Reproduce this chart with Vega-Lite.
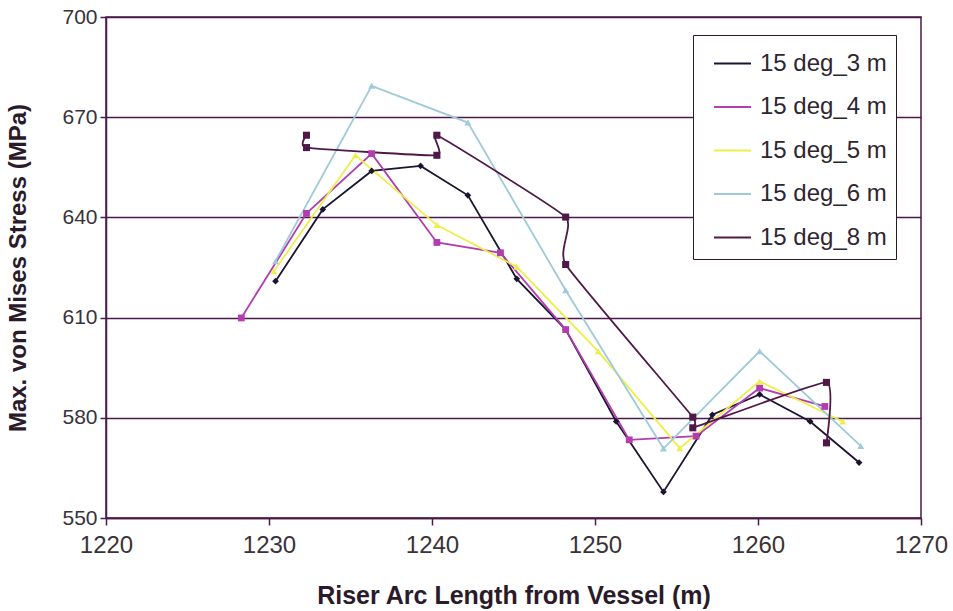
{
  "$schema": "https://vega.github.io/schema/vega-lite/v6.json",
  "autosize": "none",
  "width": 815,
  "height": 501,
  "padding": {"left": 106, "top": 17, "right": 32, "bottom": 93},
  "background": "white",
  "config": {
    "font": "Liberation Sans",
    "view": {"stroke": "#4a1a48", "strokeWidth": 1.5},
    "axis": {
      "domainColor": "#4a1a48",
      "domainWidth": 1.5,
      "tickColor": "#4a1a48",
      "tickWidth": 1.5,
      "labelColor": "#3a3238",
      "labelFont": "Liberation Sans",
      "titleFont": "Liberation Sans",
      "titleFontWeight": "bold",
      "titleColor": "#2a1a2a"
    }
  },
  "data": {
    "values": [
      {"series": "15 deg_3 m", "i": 1, "x": 1230.4, "y": 620.9},
      {"series": "15 deg_3 m", "i": 2, "x": 1233.3, "y": 642.4},
      {"series": "15 deg_3 m", "i": 3, "x": 1236.3, "y": 653.9},
      {"series": "15 deg_3 m", "i": 4, "x": 1239.3, "y": 655.4},
      {"series": "15 deg_3 m", "i": 5, "x": 1242.2, "y": 646.6},
      {"series": "15 deg_3 m", "i": 6, "x": 1245.2, "y": 621.6},
      {"series": "15 deg_3 m", "i": 7, "x": 1248.2, "y": 606.4},
      {"series": "15 deg_3 m", "i": 8, "x": 1251.3, "y": 578.9},
      {"series": "15 deg_3 m", "i": 9, "x": 1254.2, "y": 557.8},
      {"series": "15 deg_3 m", "i": 10, "x": 1257.2, "y": 580.9},
      {"series": "15 deg_3 m", "i": 11, "x": 1260.1, "y": 587.0},
      {"series": "15 deg_3 m", "i": 12, "x": 1263.2, "y": 578.9},
      {"series": "15 deg_3 m", "i": 13, "x": 1266.2, "y": 566.6},

      {"series": "15 deg_4 m", "i": 1, "x": 1228.3, "y": 609.9},
      {"series": "15 deg_4 m", "i": 2, "x": 1232.3, "y": 641.2},
      {"series": "15 deg_4 m", "i": 3, "x": 1236.3, "y": 659.1},
      {"series": "15 deg_4 m", "i": 4, "x": 1240.3, "y": 632.5},
      {"series": "15 deg_4 m", "i": 5, "x": 1244.2, "y": 629.4},
      {"series": "15 deg_4 m", "i": 6, "x": 1248.2, "y": 606.4},
      {"series": "15 deg_4 m", "i": 7, "x": 1252.1, "y": 573.4},
      {"series": "15 deg_4 m", "i": 8, "x": 1256.2, "y": 574.5},
      {"series": "15 deg_4 m", "i": 9, "x": 1260.1, "y": 588.9},
      {"series": "15 deg_4 m", "i": 10, "x": 1264.1, "y": 583.4},

      {"series": "15 deg_5 m", "i": 1, "x": 1230.3, "y": 623.9},
      {"series": "15 deg_5 m", "i": 2, "x": 1235.3, "y": 658.6},
      {"series": "15 deg_5 m", "i": 3, "x": 1240.3, "y": 637.7},
      {"series": "15 deg_5 m", "i": 4, "x": 1245.2, "y": 625.2},
      {"series": "15 deg_5 m", "i": 5, "x": 1250.2, "y": 599.9},
      {"series": "15 deg_5 m", "i": 6, "x": 1255.2, "y": 570.9},
      {"series": "15 deg_5 m", "i": 7, "x": 1260.1, "y": 590.9},
      {"series": "15 deg_5 m", "i": 8, "x": 1265.2, "y": 578.9},

      {"series": "15 deg_6 m", "i": 1, "x": 1230.4, "y": 626.9},
      {"series": "15 deg_6 m", "i": 2, "x": 1236.3, "y": 679.4},
      {"series": "15 deg_6 m", "i": 3, "x": 1242.2, "y": 668.4},
      {"series": "15 deg_6 m", "i": 4, "x": 1248.2, "y": 618.2},
      {"series": "15 deg_6 m", "i": 5, "x": 1254.2, "y": 570.8},
      {"series": "15 deg_6 m", "i": 6, "x": 1260.1, "y": 599.9},
      {"series": "15 deg_6 m", "i": 7, "x": 1266.3, "y": 571.6},

      {"series": "15 deg_8 m", "i": 1, "x": 1232.3, "y": 664.6},
      {"series": "15 deg_8 m", "i": 2, "x": 1232.3, "y": 660.9},
      {"series": "15 deg_8 m", "i": 3, "x": 1240.3, "y": 658.6},
      {"series": "15 deg_8 m", "i": 4, "x": 1240.3, "y": 664.6},
      {"series": "15 deg_8 m", "i": 5, "x": 1248.2, "y": 640.1},
      {"series": "15 deg_8 m", "i": 6, "x": 1248.2, "y": 625.9},
      {"series": "15 deg_8 m", "i": 7, "x": 1256.0, "y": 580.2},
      {"series": "15 deg_8 m", "i": 8, "x": 1256.0, "y": 577.0},
      {"series": "15 deg_8 m", "i": 9, "x": 1264.2, "y": 590.6},
      {"series": "15 deg_8 m", "i": 10, "x": 1264.2, "y": 572.5}
    ]
  },
  "encoding": {
    "x": {
      "field": "x",
      "type": "quantitative",
      "scale": {"domain": [1220, 1270], "nice": false, "zero": false},
      "axis": {
        "values": [1220, 1230, 1240, 1250, 1260, 1270],
        "format": "d",
        "grid": false,
        "tickSize": 7,
        "labelFlush": false,
        "labelFontSize": 24,
        "labelPadding": 8,
        "title": "Riser Arc Length from Vessel (m)",
        "titleFontSize": 25,
        "titlePadding": 26
      }
    },
    "y": {
      "field": "y",
      "type": "quantitative",
      "scale": {"domain": [550, 700], "nice": false, "zero": false},
      "axis": {
        "values": [550, 580, 610, 640, 670, 700],
        "grid": true,
        "gridColor": "#4a1a48",
        "gridWidth": 1.5,
        "gridOpacity": 1,
        "tickSize": 6,
        "labelFontSize": 21,
        "labelPadding": 3,
        "title": "Max. von Mises Stress (MPa)",
        "titleFontSize": 24,
        "titlePadding": 31
      }
    },
    "color": {
      "field": "series",
      "type": "nominal",
      "scale": {
        "domain": ["15 deg_3 m", "15 deg_4 m", "15 deg_5 m", "15 deg_6 m", "15 deg_8 m"],
        "range": ["#1c1430", "#b23cb0", "#eeee4a", "#9ecada", "#4e1848"]
      },
      "legend": {
        "title": null,
        "orient": "none",
        "legendX": 587,
        "legendY": 18,
        "padding": 9,
        "symbolOffset": 11,
        "strokeColor": "#2a1a2a",
        "fillColor": "white",
        "symbolType": "stroke",
        "symbolSize": 1369,
        "symbolStrokeWidth": 2,
        "labelFontSize": 24,
        "labelColor": "#2e2630",
        "labelOffset": 8,
        "rowPadding": 11.5
      }
    }
  },
  "layer": [
    {
      "transform": [{"filter": "datum.series != '15 deg_8 m'"}],
      "mark": {"type": "line", "strokeWidth": 1.8},
      "encoding": {"order": {"field": "i", "type": "quantitative"}}
    },
    {
      "transform": [{"filter": "datum.series == '15 deg_8 m'"}],
      "mark": {"type": "line", "strokeWidth": 1.8, "interpolate": "cardinal", "tension": 0.6},
      "encoding": {"order": {"field": "i", "type": "quantitative"}}
    },
    {
      "transform": [{"calculate": "datum.series", "as": "marker"}],
      "mark": {"type": "point", "filled": true, "opacity": 1},
      "encoding": {
        "shape": {
          "field": "marker",
          "type": "nominal",
          "scale": {"range": ["diamond", "square", "triangle-up", "triangle-up", "square"]},
          "legend": null
        },
        "size": {
          "field": "marker",
          "type": "nominal",
          "scale": {"range": [45, 50, 55, 45, 10]},
          "legend": null
        }
      }
    }
  ]
}
